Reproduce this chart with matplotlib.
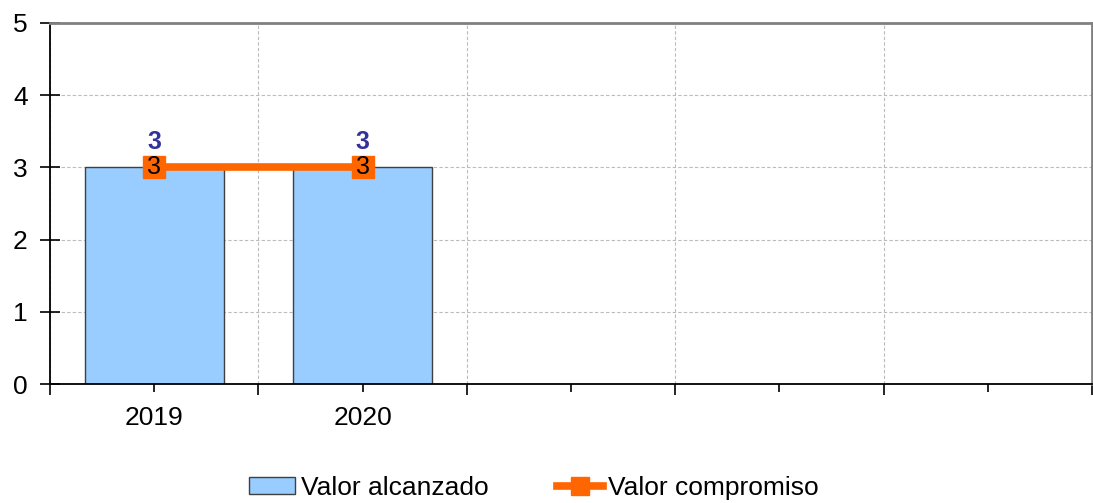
import matplotlib
matplotlib.use("Agg")
import matplotlib.pyplot as plt
import numpy as np
from matplotlib.ticker import FixedLocator, NullFormatter

plt.rcParams['font.family'] = ['Liberation Sans', 'DejaVu Sans']

categories = ["2019", "2020", "", "", ""]
valor_alcanzado = [3, 3, np.nan, np.nan, np.nan]
valor_compromiso = [3, 3, np.nan, np.nan, np.nan]
y_ticks = [0, 1, 2, 3, 4, 5]

fig = plt.figure(figsize=(10.93, 5.03), dpi=100)
ax = fig.add_axes([50/1093, 1-384/503, 1042/1093, 361/503])

x = np.arange(len(categories))
bars = ax.bar(x, valor_alcanzado, width=0.667, color='#99CCFF', edgecolor='#404040',
              linewidth=1.0, label='Valor alcanzado', zorder=2)
line, = ax.plot(x, valor_compromiso, color='#FF6600', linewidth=5.5, marker='s',
                markersize=16, label='Valor compromiso', zorder=3)

for xi, v in zip(x, valor_alcanzado):
    if not np.isnan(v):
        ax.annotate(f"{v:g}", (xi, v), xytext=(0, 18), textcoords='offset points',
                    ha='center', va='center', fontsize=18, fontweight='bold',
                    color='#333399', zorder=4)
for xi, v in zip(x, valor_compromiso):
    if not np.isnan(v):
        ax.annotate(f"{v:g}", (xi, v), xytext=(0, 0), textcoords='offset points',
                    ha='center', va='center', fontsize=18, color='black', zorder=4)

ax.set_xlim(-0.5, len(categories) - 0.5)
ax.set_ylim(0, 5)
ax.set_yticks(y_ticks)
ax.set_xticks(x)
ax.set_xticklabels(categories)
ax.xaxis.set_minor_locator(FixedLocator(np.arange(-0.5, len(categories), 1.0)))
ax.xaxis.set_minor_formatter(NullFormatter())

ax.grid(True, axis='y', which='major', color='#BBBBBB', linestyle=(0, (3, 2)), linewidth=0.8, zorder=0)
ax.grid(True, axis='x', which='minor', color='#BBBBBB', linestyle=(0, (3, 2)), linewidth=0.8, zorder=0)
ax.grid(False, axis='x', which='major')
ax.set_axisbelow(True)

ax.tick_params(axis='y', direction='inout', length=14, width=1.2, labelsize=19, pad=9, colors='black')
ax.tick_params(axis='x', which='major', direction='out', length=6, width=1.2, labelsize=19, pad=10)
ax.tick_params(axis='x', which='minor', direction='out', length=8, width=1.2)

for s in ['left', 'bottom']:
    ax.spines[s].set_color('black')
    ax.spines[s].set_linewidth(1.3)
for s in ['top', 'right']:
    ax.spines[s].set_color('#808080')
    ax.spines[s].set_linewidth(2)

fig.legend([bars, line], ['Valor alcanzado', 'Valor compromiso'],
           loc='center', bbox_to_anchor=(534/1093, 1-488/503), ncol=2, frameon=False,
           fontsize=19, handlelength=1.75, handleheight=0.6, handletextpad=0.2,
           columnspacing=2.6, markerscale=0.8)

fig.savefig('out.png', dpi=100)
